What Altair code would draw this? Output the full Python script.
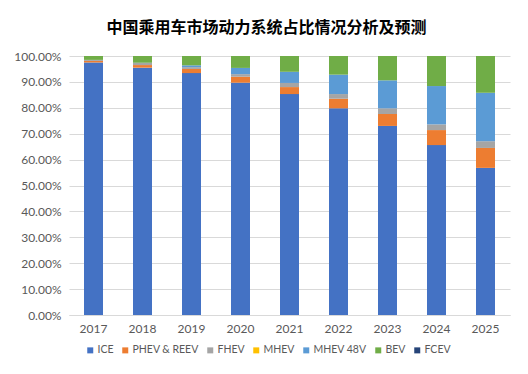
import altair as alt
import pandas as pd

years = ["2017", "2018", "2019", "2020", "2021", "2022", "2023", "2024", "2025"]
series = ["ICE", "PHEV & REEV", "FHEV", "MHEV", "MHEV 48V", "BEV", "FCEV"]
colors = ["#4472C4", "#ED7D31", "#A5A5A5", "#FFC000", "#5B9BD5", "#70AD47", "#264478"]

ice = [97.5, 95.5, 93.4, 89.7, 85.3, 79.8, 73.0, 65.6, 56.8]
phev = [0.6, 1.0, 1.6, 2.3, 2.7, 3.7, 4.6, 5.8, 7.7]
fhev = [0.4, 0.8, 0.7, 1.0, 1.6, 1.8, 2.2, 2.2, 2.6]
mhev = [0, 0, 0, 0, 0, 0, 0, 0, 0]
mhev48 = [0, 0.1, 0.7, 2.4, 4.3, 7.5, 10.8, 14.8, 18.7]
bev = [1.5, 2.6, 3.6, 4.6, 6.1, 7.2, 9.4, 11.6, 14.2]
fcev = [0, 0, 0, 0, 0, 0, 0, 0, 0]

vals = [ice, phev, fhev, mhev, mhev48, bev, fcev]
rows = []
for si, (s, v) in enumerate(zip(series, vals)):
    for y, x in zip(years, v):
        rows.append({"year": y, "type": s, "share": x / 100, "idx": si})
df = pd.DataFrame(rows)

chart = alt.Chart(df).mark_bar(size=19).encode(
    x=alt.X("year:N", sort=years, title=None,
            scale=alt.Scale(paddingInner=0.6, paddingOuter=0.3),
            axis=alt.Axis(labelAngle=0, labelFontSize=12, labelColor="#595959",
                          labelFont="Lato", labelPadding=8, ticks=False,
                          domain=True, domainColor="#D9D9D9")),
    y=alt.Y("share:Q", stack="zero", title=None,
            scale=alt.Scale(domain=[0, 1], nice=False),
            axis=alt.Axis(format=".2%", values=[i / 10 for i in range(11)],
                          labelFontSize=12, labelColor="#595959", labelFont="Lato",
                          labelPadding=8, ticks=False, domain=False,
                          gridColor="#D9D9D9")),
    color=alt.Color("type:N", sort=series,
                    scale=alt.Scale(domain=series, range=colors),
                    legend=alt.Legend(title=None, orient="none", direction="horizontal",
                                      legendX=16, legendY=289, symbolType="square",
                                      symbolSize=36, symbolStrokeWidth=0,
                                      labelFontSize=10.5, labelColor="#595959",
                                      labelFont="Lato", columnPadding=6,
                                      labelOffset=2)),
    order=alt.Order("idx:Q", sort="ascending"),
).properties(
    width=441, height=259,
    title=alt.TitleParams("中国乘用车市场动力系统占比情况分析及预测",
                          font="Noto Sans CJK SC", fontSize=16, fontWeight="bold",
                          color="#000000", anchor="middle", dx=-23, offset=14),
    autosize=alt.AutoSizeParams(type="none"),
    padding={"left": 61, "top": 48, "right": 10, "bottom": 51},
).configure_view(stroke=None)

chart.save("out.html", embed_options={"renderer": "svg", "actions": False})
